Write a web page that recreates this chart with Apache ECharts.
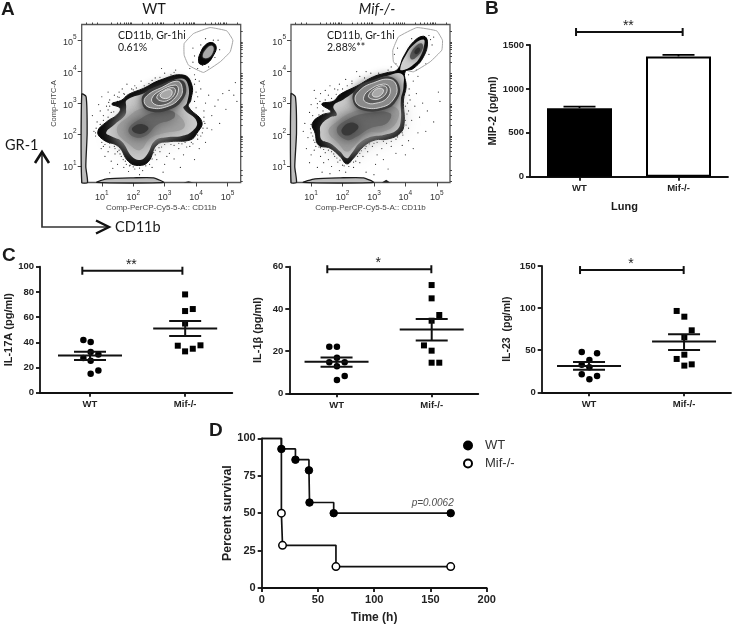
<!DOCTYPE html>
<html>
<head>
<meta charset="utf-8">
<style>html,body{margin:0;padding:0;background:#fff}#main{width:733px;height:625px}</style>
<script src="https://cdn.jsdelivr.net/npm/echarts@6/dist/echarts.min.js"></script>
</head>
<body>
<div id="main"></div>
<script>
// ---- panel A, all values are log10 of fluorescence
const flowMajor = [1, 2, 3, 4, 5]
const flowMinor = [0.5, 0.7, 0.85, 1.3, 1.48, 1.6, 1.7, 1.78, 1.85, 1.9, 1.95, 2.3, 2.48, 2.6, 2.7, 2.78, 2.85, 2.9, 2.95, 3.3, 3.48, 3.6, 3.7, 3.78, 3.85, 3.9, 3.95, 4.3, 4.48, 4.6, 4.7, 4.78, 4.85, 4.9, 4.95, 5.3]

const wtOutline = [[.873,2.09],[1.159,2.407],[1.477,2.619],[1.584,2.831],[1.318,2.968],[1.637,3.095],[1.849,3.275],[2.326,3.466],[2.857,3.73],[3.599,3.889],[3.865,3.571],[3.833,3.095],[3.759,2.884],[4.183,2.407],[4.024,2.037],[3.812,1.825],[3.175,1.772],[2.751,1.667],[2.485,1.138],[2.167,1.011],[1.849,1.138],[1.53,1.614],[1.053,1.825]]
const wtLight = [[1.138,2.058],[1.424,2.333],[1.743,2.619],[1.775,2.862],[1.796,3.095],[2.326,3.307],[2.963,3.571],[3.546,3.783],[3.759,3.519],[3.706,2.989],[3.599,2.831],[4.024,2.407],[3.865,2.09],[3.546,1.952],[3.069,1.91],[2.698,1.804],[2.432,1.349],[2.22,1.19],[1.955,1.296],[1.637,1.772],[1.318,1.931]]
const wtMid = [[1.477,2.143],[1.849,2.566],[2.326,2.831],[3.069,2.778],[3.546,2.513],[3.599,2.196],[2.963,2.037],[2.539,1.878],[2.22,1.508],[1.9,1.667]]
const wtDark = [[1.849,2.143],[2.167,2.46],[2.751,2.725],[3.282,2.725],[3.282,2.513],[2.751,2.302],[2.432,1.984],[2.061,1.91]]
const wtCore = [[1.955,2.164],[2.22,2.334],[2.485,2.196],[2.22,2.016]]
const wtHalo = [[2.273,3.042],[2.379,3.328],[2.857,3.571],[3.387,3.751],[3.653,3.624],[3.599,3.148],[3.122,2.778],[2.485,2.757]]
const wtRing1 = [[2.347,3.042],[2.485,3.275],[2.91,3.497],[3.387,3.698],[3.546,3.54],[3.494,3.18],[3.069,2.884],[2.539,2.852]]
const wtRing2 = [[2.591,3.148],[2.857,3.392],[3.335,3.571],[3.441,3.413],[3.282,3.116],[2.963,2.937],[2.668,2.968]]
const wtRing3 = [[2.751,3.201],[2.963,3.392],[3.282,3.487],[3.335,3.328],[3.122,3.095],[2.857,3.074]]
const wtRing4 = [[2.857,3.254],[3.069,3.413],[3.229,3.392],[3.176,3.201],[2.963,3.148]]
const wtGate = [[3.621,4.894],[3.918,5.212],[4.448,5.402],[4.979,5.296],[5.17,5.0],[5.085,4.63],[4.767,4.312],[4.236,3.974],[3.759,4.206],[3.621,4.524]]
const wtGateBlob = [[4.077,4.365],[4.13,4.577],[4.289,4.841],[4.501,4.926],[4.639,4.788],[4.554,4.524],[4.342,4.259],[4.13,4.238]]
const wtGateCore = [[4.215,4.471],[4.342,4.735],[4.501,4.82],[4.554,4.683],[4.395,4.45]]
const wtLeftStrip = [[.363,3.286],[.501,3.201],[.533,2.037],[.491,.979],[.544,.471],[.363,.471]]
const wtBottomStrip = [[.841,.471],[1.159,.587],[2.008,.619],[2.645,.619],[2.963,.471]]
const wtBump = [[3.599,.471],[3.759,.513],[3.918,.471]]
const wtDots = [[1.05,1.62],[1.2,1.45],[1.3,1.15],[1.42,1.38],[1.1,1.3],[1.5,1.05],[1.62,1.3],[1.7,.95],[1.35,.92],[1.85,.82],[1.25,1.72],[.98,1.55],[1.55,1.5],[1.4,1.62],[1.75,1.15],[1.9,1.02],[2.05,.9],[2.3,.85],[2.6,.95],[2.75,1.2],[2.85,1.45],[3.0,1.05],[3.15,1.4],[3.3,1.22],[3.45,1.55],[3.6,1.35],[3.7,1.6],[2.95,.8],[3.5,.95],[3.95,1.2],[4.1,1.55],[3.9,1.7],[4.05,1.85],[4.3,1.75],[2.62,1.55],[2.7,1.35],[.85,2.4],[.95,2.75],[1.05,2.6],[1.15,2.9],[1.25,3.1],[1.4,3.25],[1.55,3.35],[1.65,3.45],[1.8,3.6],[2.05,3.55],[.75,2.1],[.9,2.95],[1.0,3.2],[1.3,2.7],[1.2,3.35],[1.45,2.95],[1.1,2.25],[.8,1.95],[.7,2.6],[.95,2.15],[1.5,3.05],[1.95,3.45],[2.25,3.7],[2.5,3.62],[2.7,3.8],[3.0,3.95],[3.2,3.9],[3.35,4.05],[2.9,4.1],[3.95,3.6],[4.05,3.2],[4.15,3.45],[4.3,3.0],[4.4,3.25],[4.25,2.75],[4.5,2.6],[4.35,2.2],[4.6,2.9],[4.7,3.1],[4.85,3.3],[5.2,3.25],[5.3,3.05],[5.05,3.4],[5.25,3.65],[4.95,2.8],[4.5,2.15],[4.2,2.05],[4.75,2.35],[3.95,3.9],[4.1,3.7],[3.9,4.3],[3.8,4.1],[4.05,4.1],[3.95,4.5],[4.2,4.2],[4.7,5.0],[4.6,4.45],[4.4,4.15],[4.15,4.85],[3.9,4.75],[4.75,4.7],[4.55,5.0],[4.3,5.05],[1.25,.78],[2.2,.72],[3.07,1.3],[1.12,1.95],[1.3,2.0],[1.45,1.85],[1.7,1.5],[1.78,1.35],[1.65,1.62],[2.0,1.1],[2.55,1.3],[2.65,1.42],[2.9,1.6],[3.3,1.65],[3.55,1.7],[3.8,1.62],[4.15,1.95],[4.28,2.35],[4.25,2.55],[4.0,2.85],[3.95,3.05],[4.0,3.35],[3.98,3.75],[3.3,3.98],[2.6,3.72],[2.1,3.48],[1.7,3.3],[1.5,3.2],[1.22,3.02],[1.3,2.48],[1.1,2.12],[.92,1.98],[.8,2.05],[.82,2.2],[.95,2.32],[1.05,2.45],[1.2,2.55],[1.38,2.72],[1.2,2.78],[1.25,2.9],[1.55,3.18],[1.72,3.28],[2.0,3.42],[2.35,3.55],[2.85,3.82],[1.0,1.75],[1.1,1.68],[1.25,1.6],[1.42,1.55],[1.5,1.45],[1.58,1.38],[1.68,1.2],[1.78,1.05],[1.88,1.0],[2.0,.97],[2.2,.93],[2.4,1.0],[2.52,1.05],[2.6,1.22],[2.7,1.5],[2.82,1.58],[3.0,1.68],[3.2,1.68],[3.45,1.72],[3.65,1.75],[3.85,1.75],[4.05,1.98],[4.22,2.2],[4.25,2.42]]

const mifOutline = [[1.042,2.354],[1.34,2.619],[1.626,2.725],[1.34,2.968],[1.711,3.063],[1.923,3.275],[2.454,3.54],[2.984,3.836],[3.408,3.963],[3.748,4.069],[3.939,4.471],[4.257,4.947],[4.576,5.127],[4.703,4.947],[4.576,4.471],[4.257,4.101],[3.992,3.995],[4.024,3.519],[3.939,3.095],[3.96,2.354],[3.833,2.037],[3.408,1.847],[3.037,1.825],[2.666,1.614],[2.347,1.243],[2.135,1.063],[1.923,1.296],[1.605,1.561],[1.233,1.667],[1.127,2.037]]
const mifLight = [[1.318,2.302],[1.605,2.545],[1.817,2.619],[1.711,2.905],[2.029,3.116],[2.454,3.392],[2.984,3.698],[3.408,3.857],[3.886,3.921],[3.939,3.519],[3.854,3.095],[3.854,2.46],[3.727,2.143],[3.302,1.984],[2.931,1.931],[2.56,1.741],[2.294,1.402],[2.135,1.243],[1.923,1.455],[1.605,1.72],[1.34,1.825],[1.286,2.09]]
const mifTopLight = [[3.833,4.079],[4.013,4.524],[4.31,4.894],[4.576,5.021],[4.607,4.894],[4.469,4.471],[4.204,4.175],[3.939,4.048]]
const mifTopDark = [[4.151,4.524],[4.363,4.841],[4.524,4.894],[4.554,4.735],[4.363,4.471],[4.204,4.386]]
const mifTopCore = [[4.289,4.63],[4.416,4.767],[4.469,4.683],[4.342,4.556]]
const mifMid = [[1.552,2.09],[1.817,2.407],[2.347,2.725],[3.09,2.884],[3.727,2.831],[3.727,2.407],[3.302,2.09],[2.772,2.037],[2.401,1.667],[2.135,1.455],[1.87,1.72]]
const mifDark = [[1.817,2.143],[2.135,2.46],[2.772,2.672],[3.515,2.672],[3.408,2.354],[2.878,2.196],[2.454,1.931],[2.135,1.825]]
const mifCore = [[1.976,2.164],[2.241,2.376],[2.507,2.249],[2.294,2.016],[2.05,1.984]]
const mifHalo = [[2.326,3.095],[2.475,3.497],[2.984,3.73],[3.515,3.836],[3.812,3.54],[3.727,3.095],[3.355,2.799],[2.613,2.778]]
const mifRing1 = [[2.401,3.095],[2.56,3.413],[2.984,3.646],[3.515,3.751],[3.727,3.519],[3.642,3.148],[3.302,2.884],[2.666,2.862]]
const mifRing2 = [[2.666,3.148],[2.825,3.392],[3.302,3.603],[3.515,3.466],[3.408,3.148],[3.037,2.989],[2.772,3.011]]
const mifRing3 = [[2.825,3.233],[3.037,3.466],[3.355,3.54],[3.408,3.36],[3.197,3.148],[2.931,3.127]]
const mifRing4 = [[2.952,3.307],[3.143,3.466],[3.302,3.413],[3.197,3.233],[3.005,3.201]]
const mifGate = [[3.6,4.683],[3.78,5.106],[4.363,5.402],[5.0,5.296],[5.18,5.0],[5.159,4.683],[4.788,4.312],[4.257,3.995],[3.833,4.101],[3.621,4.312]]
const mifLeftStrip = [[.363,3.3],[.5,3.2],[.535,2.04],[.48,.98],[.535,.471],[.363,.471]]
const mifBottomStrip = [[.754,.471],[1.125,.587],[1.923,.619],[2.666,.619],[2.984,.471]]
const mifBump = [[3.25,.471],[3.39,.555],[3.515,.471]]
const mifDots = [[.95,2.7],[.8,2.35],[1.0,2.95],[1.15,3.15],[1.3,3.3],[1.05,2.25],[.9,1.9],[.75,2.1],[1.1,3.4],[1.45,3.4],[1.6,3.55],[1.75,3.45],[1.9,3.6],[2.1,3.75],[2.3,3.7],[2.55,3.85],[2.75,4.0],[2.45,4.0],[.85,1.55],[1.0,1.35],[1.1,1.5],[.95,1.1],[1.2,.95],[1.3,1.3],[1.45,1.42],[1.4,1.1],[1.55,1.2],[1.65,.98],[1.75,1.3],[1.85,1.12],[1.6,.75],[1.35,.8],[1.9,.85],[2.1,.8],[2.35,.95],[2.55,1.1],[2.65,1.3],[2.8,1.45],[2.95,1.62],[3.1,1.35],[3.25,1.55],[3.05,1.05],[3.3,1.2],[3.55,1.62],[3.7,1.4],[3.9,1.65],[4.1,1.8],[4.0,1.35],[4.25,1.55],[3.45,.9],[2.75,.8],[3.0,.72],[4.1,2.2],[4.2,2.45],[4.1,2.75],[4.3,2.9],[4.15,3.1],[4.35,3.3],[4.12,3.45],[4.25,3.7],[4.45,2.55],[4.55,3.0],[4.7,2.75],[5.05,3.35],[5.1,3.05],[4.65,2.1],[4.4,2.05],[4.9,2.4],[4.1,3.9],[4.4,3.85],[3.7,4.25],[3.55,4.15],[3.45,4.05],[3.65,4.55],[3.75,4.75],[4.9,5.1],[4.75,4.55],[4.65,4.25],[4.85,4.85],[4.35,4.05],[4.75,5.15],[4.8,5.02],[4.2,5.05],[1.05,2.6],[1.2,2.85],[1.45,3.1],[1.55,3.25],[1.3,2.5],[1.0,2.05],[1.12,1.75],[1.3,1.58],[1.5,1.62],[1.75,1.48],[1.85,1.4],[2.0,1.02],[2.42,1.15],[2.55,1.4],[2.72,1.55],[3.0,1.72],[3.4,1.72],[3.7,1.85],[3.92,1.98],[4.02,2.3],[4.05,2.65],[4.07,3.0],[4.12,3.25],[3.15,3.95],[2.9,3.95],[2.15,3.55],[1.85,3.42],[1.0,2.32],[.98,2.18],[1.05,1.95],[1.08,1.82],[1.15,1.62],[1.25,1.6],[1.4,1.52],[1.55,1.5],[1.65,1.45],[1.72,1.38],[1.82,1.25],[1.92,1.18],[2.05,1.0],[2.2,.98],[2.35,1.12],[2.48,1.3],[2.6,1.48],[2.75,1.62],[2.85,1.7],[3.1,1.75],[3.3,1.78],[3.55,1.78],[3.75,1.92],[3.9,2.05],[4.0,2.45],[4.0,2.9],[1.25,2.62],[1.38,2.75],[1.2,2.98],[1.28,3.05],[1.65,3.15],[1.8,3.28],[2.0,3.45],[2.3,3.62],[2.7,3.8]]

// ---- panel B
const groups = ['WT', 'Mif-/-']
const mip2Pos = [0.5, 1.5]
const mip2Values = [780, 1370]
const mip2Err = [798, 1388]

// ---- panel C, x is just the jitter position in the column
const il17Wt = [[.451,41.8],[.527,40.2],[.527,32.3],[.607,30.4],[.451,27.5],[.527,25.4],[.607,17.7],[.527,15.1]]
const il17Mif = [[1.509,78],[1.509,64.8],[1.589,66.4],[1.509,54.9],[1.433,37.3],[1.669,37.6],[1.589,34.9],[1.509,32.8]]
const il17Summary = [[.52,29.5,26,32.5],[1.51,51,45,56.9]]
const il1Wt = [[.423,22.1],[.504,22.1],[.504,16.9],[.423,14.7],[.586,14.7],[.504,12.8],[.586,8.2],[.504,6.3]]
const il1Mif = [[1.506,51.3],[1.506,45],[1.587,37.1],[1.506,34.4],[1.425,22.7],[1.506,20.2],[1.506,14.5],[1.587,14.5]]
const il1Summary = [[.5,15,12.6,17],[1.507,30.2,25,35.2]]
const il23Wt = [[.423,47.9],[.585,46.3],[.504,38.4],[.423,32.8],[.504,29.7],[.423,21.4],[.585,19.4],[.504,15.4]]
const il23Mif = [[1.426,96.6],[1.507,89.8],[1.585,73.6],[1.507,65.3],[1.507,44.7],[1.426,39.6],[1.507,31.7],[1.585,33.2]]
const il23Summary = [[.5,31.3,26.9,36],[1.504,60.2,50.3,68.9]]

// ---- panel D, survival steps
const wtSurvival = [[0,100],[17.5,92.9],[30,85.7],[42,78.6],[42.5,57.1],[64,50],[168,50]]
const mifSurvival = [[0,100],[17.5,50],[18.5,28.5],[66,14.3],[168,14.3]]

const SANS = 'Liberation Sans'
const SOFT = 'Lato'

let grids = [], xAxes = [], yAxes = [], series = []

function addFlowPlot(left, layers, dots, xName, yName) {
    const g = grids.length
    grids.push({ left, top: 24.5, width: 159, height: 158, show: true, backgroundColor: '#fff', borderColor: '#555', borderWidth: 1.3 })
    const x0 = xAxes.length
    const tickLabel = {
        customValues: flowMajor,
        formatter: v => '{b|10}{s|' + v + '}',
        margin: 7,
        rich: {
            b: { fontFamily: SANS, fontSize: 9, color: '#333', padding: [4, 0, 0, 0] },
            s: { fontFamily: SANS, fontSize: 6.5, color: '#333', padding: [0, 0, 6, 0] }
        }
    }
    xAxes.push({
        gridIndex: g, type: 'value', min: .36, max: 5.42, name: xName, nameLocation: 'middle', nameGap: 21,
        nameTextStyle: { fontFamily: SANS, fontSize: 8, color: '#444' },
        axisLine: { show: false }, splitLine: { show: false },
        axisTick: { customValues: flowMajor, length: 4, lineStyle: { color: '#444' } },
        axisLabel: tickLabel
    })
    xAxes.push({
        gridIndex: g, type: 'value', min: .36, max: 5.42, axisLine: { show: false }, splitLine: { show: false },
        axisLabel: { show: false }, axisTick: { customValues: flowMinor, length: 2, lineStyle: { color: '#444' } }
    })
    yAxes.push({
        gridIndex: g, type: 'value', min: .47, max: 5.5, name: yName, nameLocation: 'middle', nameGap: 24,
        nameTextStyle: { fontFamily: SANS, fontSize: 7.5, color: '#444' },
        axisLine: { show: false }, splitLine: { show: false },
        axisTick: { customValues: flowMajor, length: 4, lineStyle: { color: '#444' } },
        axisLabel: Object.assign({}, tickLabel, { margin: 5 })
    })
    yAxes.push({
        gridIndex: g, type: 'value', min: .47, max: 5.5, axisLine: { show: false }, splitLine: { show: false },
        axisLabel: { show: false }, axisTick: { customValues: flowMinor, length: 2, lineStyle: { color: '#444' } }
    })
    series.push({
        type: 'scatter', xAxisIndex: x0, yAxisIndex: x0, data: dots, symbolSize: 1.2, silent: true,
        itemStyle: { color: '#2a2a2a', opacity: 1 }, z: 2, clip: true
    })
    series.push({
        type: 'custom', xAxisIndex: x0, yAxisIndex: x0, silent: true, z: 3,
        data: layers.map((l, i) => [i]),
        renderItem: (params, api) => {
            const l = layers[params.dataIndex]
            return {
                type: 'polygon',
                shape: { points: l[0].map(p => api.coord(p)), smooth: l[1].smooth === undefined ? .45 : l[1].smooth },
                style: {
                    fill: l[1].fill || 'none', stroke: l[1].stroke || 'none', lineWidth: l[1].lw || 0,
                    shadowBlur: l[1].blur || 0, shadowColor: l[1].fill || 'transparent'
                }
            }
        }
    })
}

// bracket and stars above a panel; x and y are in the data units of the panel
function addBracket(g, x0, x1, y, stars, dy) {
    series.push({
        type: 'custom', xAxisIndex: g, yAxisIndex: g, silent: true, z: 6, clip: false,
        data: [[x0, x1, y]],
        renderItem: (params, api) => {
            const a = api.coord([api.value(0), api.value(2)])
            const b = api.coord([api.value(1), api.value(2)])
            const st = { stroke: '#111', lineWidth: 2 }
            return {
                type: 'group',
                children: [
                    { type: 'line', shape: { x1: a[0], y1: a[1], x2: b[0], y2: b[1] }, style: st },
                    { type: 'line', shape: { x1: a[0], y1: a[1] - 4, x2: a[0], y2: a[1] + 4 }, style: st },
                    { type: 'line', shape: { x1: b[0], y1: b[1] - 4, x2: b[0], y2: b[1] + 4 }, style: st },
                    {
                        type: 'text',
                        style: {
                            text: stars, x: (a[0] + b[0]) / 2 - 1, y: a[1] - dy, fill: '#222', align: 'center',
                            verticalAlign: 'middle', font: '14px "' + SANS + '"'
                        }
                    }
                ]
            }
        }
    })
}

function addGraphPadAxes(left, top, width, height, yMax, yStep, yName, ticks, nameGap, fontSize) {
    const g = grids.length
    grids.push({ left, top, width, height })
    const lineSt = { color: '#111', width: 1.8 }
    xAxes.push({
        gridIndex: g, type: 'value', min: 0, max: 2, splitLine: { show: false },
        axisLine: { lineStyle: lineSt, onZero: false },
        axisTick: { customValues: ticks, length: 4, lineStyle: lineSt },
        axisLabel: {
            customValues: ticks, formatter: v => groups[v < 1 ? 0 : 1], margin: 7,
            fontFamily: SANS, fontWeight: 'bold', fontSize: 9.5, color: '#222'
        }
    })
    yAxes.push({
        gridIndex: g, type: 'value', min: 0, max: yMax, interval: yStep, splitLine: { show: false },
        name: yName, nameLocation: 'middle', nameGap,
        nameTextStyle: { fontFamily: SANS, fontWeight: 'bold', fontSize: fontSize, color: '#222' },
        axisLine: { show: true, lineStyle: lineSt, onZero: false },
        axisTick: { length: 4, lineStyle: lineSt },
        axisLabel: { margin: 6, formatter: v => String(v), fontFamily: SANS, fontWeight: 'bold', fontSize: 9.5, color: '#222' }
    })
    return xAxes.length - 1
}

function addDotPanel(g, wt, mif, summary, name) {
    series.push({ type: 'scatter', name: name + ' WT', xAxisIndex: g, yAxisIndex: g, data: wt, symbol: 'circle', symbolSize: 6.5, itemStyle: { color: '#000', opacity: 1 }, z: 4 })
    series.push({ type: 'scatter', name: name + ' Mif', xAxisIndex: g, yAxisIndex: g, data: mif, symbol: 'rect', symbolSize: 6, itemStyle: { color: '#000', opacity: 1 }, z: 4 })
    series.push({
        type: 'custom', name: name + ' mean', xAxisIndex: g, yAxisIndex: g, silent: true, z: 5,
        data: summary,
        renderItem: (params, api) => {
            const x = api.value(0)
            const m = api.coord([x, api.value(1)])
            const lo = api.coord([x, api.value(2)])
            const hi = api.coord([x, api.value(3)])
            const st = { stroke: '#111', lineWidth: 2 }
            return {
                type: 'group',
                children: [
                    { type: 'line', shape: { x1: m[0] - 32, y1: m[1], x2: m[0] + 32, y2: m[1] }, style: st },
                    { type: 'line', shape: { x1: m[0], y1: lo[1], x2: m[0], y2: hi[1] }, style: st },
                    { type: 'line', shape: { x1: m[0] - 16, y1: lo[1], x2: m[0] + 16, y2: lo[1] }, style: st },
                    { type: 'line', shape: { x1: m[0] - 16, y1: hi[1], x2: m[0] + 16, y2: hi[1] }, style: st }
                ]
            }
        }
    })
}

// ---- A
const black = { fill: '#050505', stroke: '#050505', lw: 1 }
const light = { fill: '#cdcdcd' }
const soft = { fill: '#bababa', blur: 24 }
const mid = { fill: '#a0a0a0', blur: 14 }
const deep = { fill: '#868686', blur: 18 }
const dark = { fill: '#686868', blur: 12 }
const core = { fill: '#383838', blur: 12 }
const halo = { fill: '#3c3c3c', blur: 10 }
const ring1 = { fill: '#8a8a8a', stroke: '#ececec', lw: .8 }
const ring2 = { fill: '#5c5c5c', stroke: '#ececec', lw: .8 }
const ring3 = { fill: '#777777', stroke: '#ececec', lw: .8 }
const ring4 = { fill: '#a8a8a8', stroke: '#ececec', lw: .8 }
const gate = { stroke: '#a6a6a6', lw: 1, smooth: .1 }
const strip = { fill: '#bdbdbd', stroke: '#1c1c1c', lw: 1.3, smooth: .2 }

addFlowPlot(81.7, [
    [wtGate, gate], [wtGateBlob, black], [wtGateCore, { fill: '#a8a8a8', blur: 2 }],
    [wtLeftStrip, strip], [wtBottomStrip, strip], [wtBump, { fill: '#222', smooth: 0 }],
    [wtOutline, black], [wtLight, light], [wtMid, soft], [wtMid, mid], [wtDark, deep], [wtDark, dark], [wtCore, core], [wtHalo, halo],
    [wtRing1, ring1], [wtRing2, ring2], [wtRing3, ring3], [wtRing4, ring4]
], wtDots, 'Comp-PerCP-Cy5-5-A:: CD11b', 'Comp-FITC-A')

addFlowPlot(291, [
    [mifGate, gate],
    [mifLeftStrip, strip], [mifBottomStrip, strip], [mifBump, { fill: '#222', smooth: 0 }],
    [mifOutline, black], [mifLight, light], [mifTopLight, { fill: '#cfcfcf' }], [mifTopDark, { fill: '#565656', blur: 7 }], [mifTopCore, { fill: '#2e2e2e', blur: 4 }],
    [mifMid, soft], [mifMid, mid], [mifDark, deep], [mifDark, dark], [mifCore, core], [mifHalo, halo],
    [mifRing1, ring1], [mifRing2, ring2], [mifRing3, ring3], [mifRing4, ring4]
], mifDots, 'Comp-PerCP-Cy5-5-A:: CD11b', 'Comp-FITC-A')

// ---- B
const gB = addGraphPadAxes(530, 45, 198, 131.7, 1500, 500, 'MIP-2 (pg/ml)', mip2Pos, 29, 11)
series.push({
    type: 'custom', xAxisIndex: gB, yAxisIndex: gB, silent: true, z: 3,
    data: mip2Pos.map((x, i) => [x, mip2Err[i]]),
    renderItem: (params, api) => {
        const p = api.coord([api.value(0), api.value(1)])
        const base = api.coord([api.value(0), mip2Values[params.dataIndex]])
        const st = { stroke: '#000', lineWidth: 1.8 }
        return {
            type: 'group',
            children: [
                { type: 'line', shape: { x1: p[0], y1: p[1], x2: p[0], y2: base[1] }, style: st },
                { type: 'line', shape: { x1: p[0] - 16, y1: p[1], x2: p[0] + 16, y2: p[1] }, style: st }
            ]
        }
    }
})
series.push({
    type: 'bar', name: 'MIP-2', xAxisIndex: gB, yAxisIndex: gB, barWidth: 65, z: 4,
    data: mip2Pos.map((x, i) => ({
        value: [x, mip2Values[i]],
        itemStyle: i == 0 ? { color: '#000', borderColor: '#000', borderWidth: 2 } : { color: '#fff', borderColor: '#000', borderWidth: 2 }
    }))
})
addBracket(gB, .465, 1.542, 1648, '**', 6)

// ---- C
const gC1 = addGraphPadAxes(40, 266.7, 192.3, 126, 100, 20, 'IL-17A (pg/ml)', [.52, 1.51], 24, 11)
addDotPanel(gC1, il17Wt, il17Mif, il17Summary, 'IL-17A')
addBracket(gC1, .44, 1.481, 96.8, '**', 6)

const gC2 = addGraphPadAxes(289.3, 266.7, 189, 126.6, 60, 20, 'IL-1\u03b2 (pg/ml)', [.5, 1.507], 26, 11)
addDotPanel(gC2, il1Wt, il1Mif, il1Summary, 'IL-1b')
addBracket(gC2, .402, 1.503, 58.8, '*', 6)

const gC3 = addGraphPadAxes(541.7, 266, 189.3, 126.3, 150, 50, 'IL-23  (pg/ml)', [.5, 1.504], 29, 10.5)
addDotPanel(gC3, il23Wt, il23Mif, il23Summary, 'IL-23')
addBracket(gC3, .405, 1.5, 145.2, '*', 6)

// ---- D
const gD = xAxes.length
grids.push({ left: 261.7, top: 438.3, width: 225, height: 150 })
const dLine = { color: '#111', width: 1.8 }
const dLabel = { margin: 6, fontFamily: SANS, fontWeight: 'bold', fontSize: 11, color: '#222' }
xAxes.push({
    gridIndex: grids.length - 1, type: 'value', min: 0, max: 200, interval: 50, splitLine: { show: false },
    name: 'Time (h)', nameLocation: 'middle', nameGap: 24,
    nameTextStyle: { fontFamily: SANS, fontWeight: 'bold', fontSize: 12, color: '#222' },
    axisLine: { lineStyle: dLine, onZero: false }, axisTick: { length: 4, lineStyle: dLine }, axisLabel: dLabel
})
yAxes.push({
    gridIndex: grids.length - 1, type: 'value', min: 0, max: 100, interval: 25, splitLine: { show: false },
    name: 'Percent survival', nameLocation: 'middle', nameGap: 28,
    nameTextStyle: { fontFamily: SANS, fontWeight: 'bold', fontSize: 12.4, color: '#222' },
    axisLine: { show: true, lineStyle: dLine, onZero: false }, axisTick: { length: 4, lineStyle: dLine }, axisLabel: dLabel
})
series.push({ type: 'line', name: 'WT steps', xAxisIndex: gD, yAxisIndex: gD, data: wtSurvival, step: 'end', symbol: 'none', lineStyle: { color: '#111', width: 1.7 }, z: 3 })
series.push({ type: 'line', name: 'Mif steps', xAxisIndex: gD, yAxisIndex: gD, data: mifSurvival, step: 'end', symbol: 'none', lineStyle: { color: '#111', width: 1.7 }, z: 3 })
series.push({ type: 'scatter', name: 'WT', xAxisIndex: gD, yAxisIndex: gD, data: wtSurvival.slice(1), symbol: 'circle', symbolSize: 7.5, itemStyle: { color: '#000', borderColor: '#000', borderWidth: 1, opacity: 1 }, z: 4 })
series.push({ type: 'scatter', name: 'Mif-/-', xAxisIndex: gD, yAxisIndex: gD, data: mifSurvival.slice(1), symbol: 'circle', symbolSize: 7.5, itemStyle: { color: '#fff', borderColor: '#000', borderWidth: 1.5, opacity: 1 }, z: 4 })
series.push({
    type: 'scatter', name: 'p value', xAxisIndex: gD, yAxisIndex: gD, data: [[152, 56.7]], symbolSize: 0, silent: true,
    label: { show: true, position: 'inside', formatter: 'p=0.0062', fontFamily: SANS, fontStyle: 'italic', fontSize: 10, color: '#222' }
})

// ---- free text and the two gating arrows of A
function txt(text, x, y, font, extra) {
    return { type: 'text', style: Object.assign({ text, x, y, font, fill: '#1a1a1a', align: 'left', verticalAlign: 'middle' }, extra || {}) }
}
function stroke(points, color, w) {
    return { type: 'polyline', shape: { points }, style: { stroke: color, lineWidth: w, fill: 'none' } }
}
const letter = 'bold 19px "' + SANS + '"'
const note = '10.5px "' + SOFT + '"'
const big = '14.5px "' + SOFT + '"'
const graphic = [
    txt('A', 1, 10, letter), txt('B', 485, 9, letter), txt('C', 2, 256, letter), txt('D', 209, 431, letter),
    txt('WT', 154, 9, big, { align: 'center' }),
    txt('Mif-/-', 377, 9, 'italic ' + big, { align: 'center' }),
    txt('CD11b, Gr-1hi', 118, 36, note), txt('0.61%', 118, 48, note),
    txt('CD11b, Gr-1hi', 327, 36, note), txt('2.88%**', 327, 48, note),
    txt('GR-1', 5, 145, big), txt('CD11b', 115, 227, big),
    txt('Lung', 624.5, 207, 'bold 11px "' + SANS + '"', { align: 'center' }),
    stroke([[42, 154], [42, 227], [107, 227]], '#333', 1.7),
    stroke([[35, 163], [42, 152], [49, 163]], '#111', 2.6),
    stroke([[96, 220.5], [109, 227], [96, 233.5]], '#111', 2.4)
]

const chart = echarts.init(document.getElementById('main'))
chart.setOption({
    animation: false,
    backgroundColor: '#fff',
    grid: grids,
    xAxis: xAxes,
    yAxis: yAxes,
    series,
    graphic,
    legend: {
        data: ['WT', 'Mif-/-'], orient: 'vertical', left: 458, top: 434, itemGap: 5, itemWidth: 8, itemHeight: 8,
        icon: 'circle', selectedMode: false,
        textStyle: { fontFamily: SANS, fontSize: 13, color: '#333', padding: [0, 0, 0, 8] }
    }
})
</script>
</body>
</html>
